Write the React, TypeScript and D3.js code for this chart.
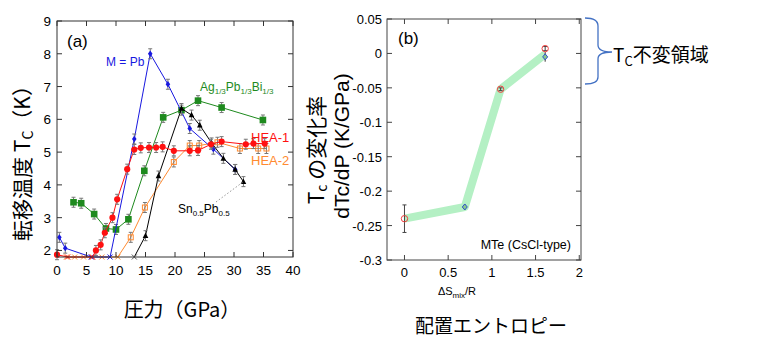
import * as d3 from "d3";

// panel (a): Tc vs pressure
const pbP = [0.4, 1.4, 5.8, 9.0, 13.1, 15.8, 18.8, 22.5, 26.5, 30.2];
const pbTc = [2.4, 2.07, 1.8, 1.8, 5.4, 8.0, 7.07, 5.72, 5.09, 4.47];
const agP = [2.8, 4.1, 6.3, 8.3, 10.0, 12.1, 14.8, 18.0, 21.1, 23.9, 27.9, 34.9];
const agTc = [3.47, 3.44, 3.11, 2.67, 2.64, 2.95, 4.43, 6.06, 6.28, 6.57, 6.36, 5.98];
const hea1P = [0, 1.8, 6.0, 6.6, 7.4, 8.1, 9.4, 10.2, 11.9, 13.1, 14.2, 15.6, 16.8, 17.9, 19.8, 22.5, 23.9, 26.1, 27.9, 32.0, 33.3, 35.2];
const hea1Tc = [1.87, 1.8, 1.8, 2.0, 2.17, 2.54, 3.0, 3.56, 4.48, 5.08, 5.13, 5.14, 5.14, 5.16, 5.04, 5.04, 5.05, 5.24, 5.32, 5.24, 5.26, 5.26];
const hea2P = [1.6, 3.0, 4.5, 6.0, 7.6, 10.3, 12.5, 14.9, 19.8, 22.5, 24.1, 27.2, 31.0, 34.1, 35.5];
const hea2Tc = [1.8, 1.8, 1.8, 1.8, 1.8, 1.8, 2.4, 3.31, 4.7, 5.2, 5.2, 5.3, 5.11, 5.11, 5.11];
const snP = [13.1, 15.0, 17.2, 21.1, 22.8, 24.2, 26.2, 28.2, 30.2, 31.6];
const snTc = [1.8, 2.45, 4.27, 6.33, 6.13, 5.82, 5.28, 4.81, 4.47, 4.1];

const pTicks = [0, 5, 10, 15, 20, 25, 30, 35, 40];
const tcTicks = [2, 3, 4, 5, 6, 7, 8, 9];

// panel (b): dTc/dP vs mixing entropy
const entropy = [0, 0.69, 1.1, 1.61];
const rate = [-0.24, -0.223, -0.052, -0.001];
const redS = [0, 1.1, 1.61];
const redRate = [-0.24, -0.052, 0.007];
const redErr = [0.02, 0.002, 0.003];
const blueS = [0.69, 1.61];
const blueRate = [-0.223, -0.005];
const blueErr = [0.004, 0.007];
const sTicks = [0, 0.5, 1, 1.5, 2];
const rateTicks = [0.05, 0, -0.05, -0.1, -0.15, -0.2, -0.25, -0.3];

const FONT = "'Liberation Sans', Arial, sans-serif";
const JP = "'Noto Sans CJK JP', sans-serif";

type Series = { p: number[]; tc: number[]; color: string; marker: "diamond" | "square" | "circle" | "open" | "triangle" };

const seriesA: Series[] = [
  { p: hea2P, tc: hea2Tc, color: "#ff8a30", marker: "open" },
  { p: agP, tc: agTc, color: "#1e8a1e", marker: "square" },
  { p: pbP, tc: pbTc, color: "#1818e0", marker: "diamond" },
  { p: snP, tc: snTc, color: "#000000", marker: "triangle" },
  { p: hea1P, tc: hea1Tc, color: "#ff1010", marker: "circle" },
];

function Marker({ x, y, s }: { x: number; y: number; s: Series }) {
  const c = s.color;
  if (s.marker === "square") return <rect x={x - 3.3} y={y - 3.3} width={6.6} height={6.6} fill={c} />;
  if (s.marker === "circle") return <circle cx={x} cy={y} r={3.1} fill={c} />;
  if (s.marker === "open") return <rect x={x - 2.5} y={y - 2.5} width={5} height={5} fill="none" stroke={c} strokeWidth={1} />;
  if (s.marker === "triangle") return <path d={`M${x},${y - 3.2}L${x + 2.8},${y + 2.3}L${x - 2.8},${y + 2.3}Z`} fill={c} />;
  return <path d={`M${x},${y - 3.2}L${x + 2.3},${y}L${x},${y + 3.2}L${x - 2.3},${y}Z`} fill={c} />;
}

function PanelA() {
  const x = d3.scaleLinear().domain([0, 40]).range([57, 293]);
  const y = d3.scaleLinear().domain([1.8, 9]).range([257, 21]);
  const line = d3.line<[number, number]>().x((d) => x(d[0])).y((d) => y(d[1]));
  return (
    <g>
      {seriesA.map((s, i) => {
        const pts = s.p.map((p, j) => [p, s.tc[j]] as [number, number]);
        return (
          <g key={i}>
            <path d={line(pts) ?? ""} fill="none" stroke={s.color} strokeWidth={1} />
            {pts.map(([p, t], j) => {
              const px = x(p);
              const py = y(t);
              if (t <= 1.81)
                return (
                  <path key={j} d={`M${px - 2.5},${py - 2.5}L${px + 2.5},${py + 2.5}M${px - 2.5},${py + 2.5}L${px + 2.5},${py - 2.5}`}
                    stroke={s.color === "#000000" ? "#555" : s.color} strokeWidth={1} />
                );
              return (
                <g key={j}>
                  <path d={`M${px},${py - 5}V${py + 5}M${px - 2},${py - 5}H${px + 2}M${px - 2},${py + 5}H${px + 2}`} stroke="#777" strokeWidth={1} />
                  <Marker x={px} y={py} s={s} />
                </g>
              );
            })}
          </g>
        );
      })}
      <rect x={57} y={21} width={236} height={236} fill="none" stroke="#333" strokeWidth={1} />
      {pTicks.map((t) => (
        <g key={t}>
          <line x1={x(t)} x2={x(t)} y1={257} y2={252} stroke="#333" />
          <line x1={x(t)} x2={x(t)} y1={21} y2={26} stroke="#333" />
          <text x={x(t)} y={275} textAnchor="middle" fontSize={13.5} fontFamily={FONT}>{t}</text>
        </g>
      ))}
      {tcTicks.map((t) => (
        <g key={t}>
          <line x1={57} x2={62} y1={y(t)} y2={y(t)} stroke="#333" />
          <line x1={293} x2={288} y1={y(t)} y2={y(t)} stroke="#333" />
          <text x={51} y={y(t) + 5} textAnchor="end" fontSize={13.5} fontFamily={FONT}>{t}</text>
        </g>
      ))}
      <text x={67} y={47} fontSize={17} fontFamily={FONT}>(a)</text>
      <text x={106} y={66} fontSize={12} fontFamily={FONT} fill="#1818e0">M = Pb</text>
      <text x={200} y={91} fontSize={12} fontFamily={FONT} fill="#1e8a1e">
        Ag<tspan fontSize={8} dy={3}>1/3</tspan><tspan dy={-3}>Pb</tspan><tspan fontSize={8} dy={3}>1/3</tspan><tspan dy={-3}>Bi</tspan><tspan fontSize={8} dy={3}>1/3</tspan>
      </text>
      <text x={251} y={142} fontSize={13} fontFamily={FONT} fill="#ff1010">HEA-1</text>
      <text x={251} y={165} fontSize={13} fontFamily={FONT} fill="#ff8a30">HEA-2</text>
      <text x={178} y={213} fontSize={12} fontFamily={FONT}>
        Sn<tspan fontSize={8} dy={3}>0.5</tspan><tspan dy={-3}>Pb</tspan><tspan fontSize={8} dy={3}>0.5</tspan>
      </text>
      <line x1={216} y1={202} x2={243} y2={182} stroke="#999" strokeDasharray="1.5,2" />
      <text x={182} y={317} textAnchor="middle" fontSize={20} fontFamily={JP}>圧力（GPa）</text>
      <text transform="translate(30,158) rotate(-90)" textAnchor="middle" fontSize={21} fontFamily={JP}>
        転移温度 T<tspan fontSize={14} dy={3}>C</tspan><tspan dy={-3}>（K）</tspan>
      </text>
    </g>
  );
}

function PanelB() {
  const x = d3.scaleLinear().domain([-0.2, 2.02]).range([387, 581]);
  const y = d3.scaleLinear().domain([-0.3, 0.05]).range([260, 19]);
  const line = d3.line<number>().x((d) => x(d)).y((_, i) => y(rate[i]));
  return (
    <g>
      <path d={line(entropy) ?? ""} fill="none" stroke="#b4f0c4" strokeWidth={8} strokeLinejoin="round" />
      {blueS.map((s, i) => (
        <g key={"b" + i}>
          <path d={`M${x(s)},${y(blueRate[i] + blueErr[i])}V${y(blueRate[i] - blueErr[i])}`} stroke="#333" />
          <path d={`M${x(s)},${y(blueRate[i]) - 3}l2.5,3l-2.5,3l-2.5,-3Z`} fill="#88c888" stroke="#3050d0" strokeWidth={1} />
        </g>
      ))}
      {redS.map((s, i) => (
        <g key={"r" + i}>
          <path d={`M${x(s)},${y(redRate[i] + redErr[i])}V${y(redRate[i] - redErr[i])}M${x(s) - 2},${y(redRate[i] + redErr[i])}h4M${x(s) - 2},${y(redRate[i] - redErr[i])}h4`} stroke="#444" />
          <circle cx={x(s)} cy={y(redRate[i])} r={3.2} fill="none" stroke="#f04040" strokeWidth={1} />
        </g>
      ))}
      <rect x={387} y={19} width={194} height={241} fill="none" stroke="#444" strokeWidth={1} />
      {sTicks.map((t) => (
        <g key={t}>
          <line x1={x(t)} x2={x(t)} y1={260} y2={255} stroke="#444" />
          <line x1={x(t)} x2={x(t)} y1={19} y2={24} stroke="#444" />
          <text x={x(t)} y={277} textAnchor="middle" fontSize={13} fontFamily={FONT}>{t}</text>
        </g>
      ))}
      {rateTicks.map((t) => (
        <g key={t}>
          <line x1={387} x2={392} y1={y(t)} y2={y(t)} stroke="#444" />
          <line x1={581} x2={576} y1={y(t)} y2={y(t)} stroke="#444" />
          <text x={382} y={y(t) + 5} textAnchor="end" fontSize={13} fontFamily={FONT}>{t}</text>
        </g>
      ))}
      <text x={398} y={44} fontSize={17} fontFamily={FONT}>(b)</text>
      <text x={571} y={249} textAnchor="end" fontSize={12.5} fontFamily={FONT}>MTe (CsCl-type)</text>
      <text x={457} y={295} textAnchor="middle" fontSize={11} fontFamily={FONT}>
        ΔS<tspan fontSize={8} dy={3}>mix</tspan><tspan dy={-3}>/R</tspan>
      </text>
      <text x={491} y={333} textAnchor="middle" fontSize={19} fontFamily={JP}>配置エントロピー</text>
      <text transform="translate(324,150) rotate(-90)" textAnchor="middle" fontSize={21} fontFamily={JP}>
        T<tspan fontSize={14} dy={3}>c</tspan><tspan dy={-3}> の変化率</tspan>
      </text>
      <text transform="translate(349,146) rotate(-90)" textAnchor="middle" fontSize={21} fontFamily={FONT}>
        dTc/dP (K/GPa)
      </text>
      <path d="M585,18 Q598,18 598,26 V45 Q598,52 612,52 Q598,52 598,59 V77 Q598,84 585,84" fill="none" stroke="#4472c4" strokeWidth={1.3} />
      <text x={613} y={62} fontSize={19} fontFamily={JP}>
        T<tspan fontSize={13} dy={4}>C</tspan><tspan dy={-4}>不変領域</tspan>
      </text>
    </g>
  );
}

export default function App() {
  return (
    <svg width={762} height={353} style={{ position: "absolute", left: 0, top: 0, background: "#fff" }}>
      <PanelA />
      <PanelB />
    </svg>
  );
}
